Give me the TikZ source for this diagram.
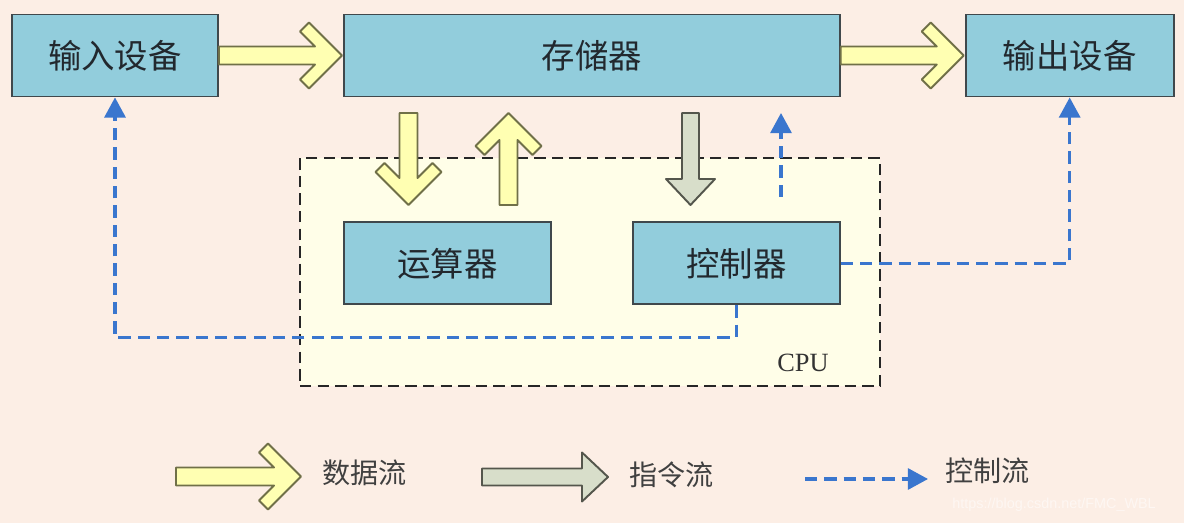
\documentclass[tikz,border=0pt]{standalone}
\usepackage{fontspec}
\setmainfont{Liberation Serif}
\newfontfamily\cjk{Noto Sans CJK SC}
\newfontfamily\urlfont{Liberation Sans}
\usetikzlibrary{arrows.meta,positioning}
\definecolor{PageBg}{RGB}{252,238,229}
\definecolor{BoxFill}{RGB}{146,205,220}
\definecolor{BoxEdge}{RGB}{64,72,76}
\definecolor{CpuFill}{RGB}{255,254,232}
\definecolor{DataFill}{RGB}{255,255,178}
\definecolor{DataEdge}{RGB}{112,112,72}
\definecolor{CmdFill}{RGB}{216,222,202}
\definecolor{CmdEdge}{RGB}{84,86,76}
\definecolor{CtrlBlue}{RGB}{58,118,206}
\definecolor{TextDark}{RGB}{34,40,46}

\begin{document}
\begin{tikzpicture}[
  x=0.02cm, y=-0.02cm,
  node distance=2.48cm,
  box/.style={rectangle,draw=BoxEdge,line width=1.1pt,fill=BoxFill,minimum height=1.64cm,text=TextDark,font=\cjk\fontsize{19}{21}\selectfont},
  cpubox/.style={rectangle,draw=black!85,fill=CpuFill,line width=1pt,dash pattern=on 6.5pt off 3.5pt,minimum width=11.6cm,minimum height=4.56cm},
  legend/.style={inner sep=0pt,text=black!75,font=\cjk\fontsize{16}{18}\selectfont},
  data/.style={draw=DataEdge,fill=DataFill,line width=1.1pt,line join=round},
  cmd/.style={draw=CmdEdge,fill=CmdFill,line width=1.1pt,line join=round},
  ctrl/.style={draw=CtrlBlue,line width=1.8pt,dash pattern=on 7pt off 4pt,-{Triangle[length=11.5pt,width=12pt]}},
  pics/dataarrow/.style={code={\path[pic actions] (0,-9) -- ({#1-27},-9) -- ({#1-42},-24) -- ({#1-33},-33) -- (#1,0) -- ({#1-33},33) -- ({#1-42},24) -- ({#1-27},9) -- (0,9) -- cycle;}},
  pics/cmdarrow/.style={code={\path[pic actions] (0,-8.5) -- ({#1-26},-8.5) -- ({#1-26},-24.5) -- (#1,0) -- ({#1-26},24.5) -- ({#1-26},8.5) -- (0,8.5) -- cycle;}}
]
\useasboundingbox (0,0) rectangle (1184,523);
\fill[PageBg] (0,0) rectangle (1184,523);
\node[box,minimum width=4.12cm] (in) at (115,55.5) {输入设备};
\node[box,minimum width=9.92cm,right=of in] (mem) {存储器};
\node[box,minimum width=4.16cm,right=of mem] (out) {输出设备};
\node[cpubox] (cpu) at (590,272) {};
\node[box,minimum width=4.14cm,below=of mem.south west,anchor=north west] (alu) {运算器};
\node[box,minimum width=4.14cm,below=of mem.south east,anchor=north east] (ctl) {控制器};
\node[font=\fontsize{15}{17}\selectfont,text=black!80] (cpulabel) at (803,363) {CPU};
\pic[data] at (in.east) {dataarrow=123};
\pic[data] at (mem.east) {dataarrow=123};
\pic[data,rotate=-90] at (408.5,113) {dataarrow=92};
\pic[data,rotate=90] at (508.5,205) {dataarrow=92};
\pic[cmd,rotate=-90] at (690.5,113) {cmdarrow=92};
\coordinate (fb) at (781,197);
\coordinate (fbtip) at (781,113);
\draw[ctrl] (ctl.east) -| (out.south);
\draw[ctrl] (ctl.south) -- ++(0,32) -| (in.south);
\draw[ctrl] (fb) -- (fbtip);
\pic[data] at (176,476.5) {dataarrow=125};
\node[legend,anchor=west] (datalbl) at (322,473) {数据流};
\pic[cmd] at (482,477) {cmdarrow=126};
\node[legend,anchor=west] (cmdlbl) at (629,475) {指令流};
\coordinate (ctrlstart) at (805,479);
\coordinate (ctrlend) at (928,479);
\draw[ctrl] (ctrlstart) -- (ctrlend);
\node[legend,anchor=west] (ctrllbl) at (945,471) {控制流};
\node[inner sep=0pt,anchor=west,font=\urlfont\fontsize{8.2}{10}\selectfont,text=white!55!PageBg] (mark) at (952,505) {https://blog.csdn.net/FMC\_WBL};
\end{tikzpicture}
\end{document}
